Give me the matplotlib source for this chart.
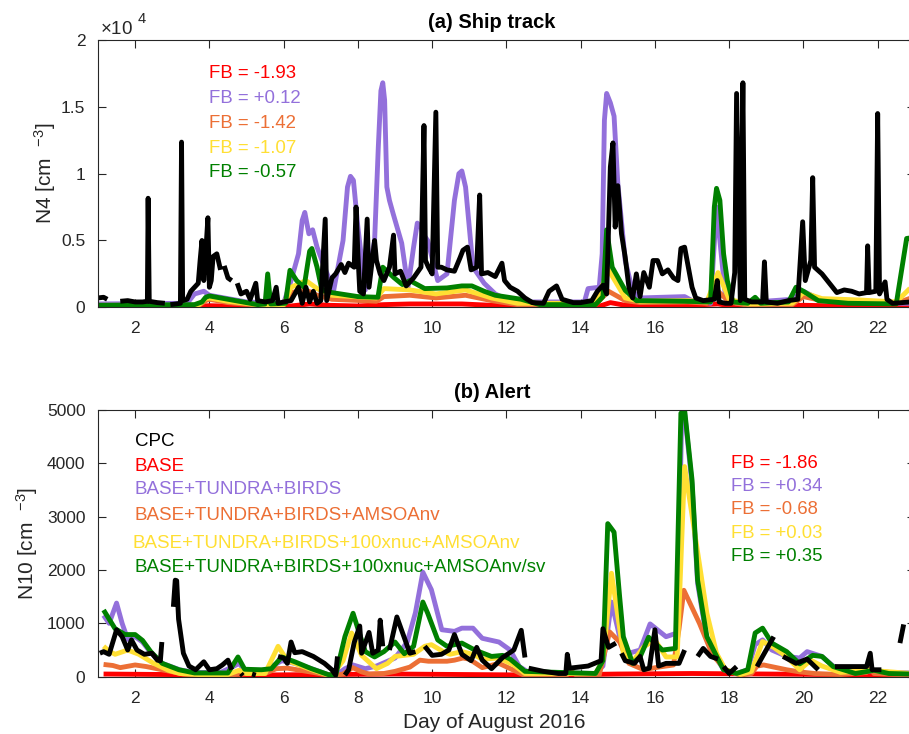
import numpy as np
import matplotlib
matplotlib.use("Agg")
import matplotlib.pyplot as plt
from matplotlib.ticker import FuncFormatter

plt.rcParams['font.family'] = ['Liberation Sans', 'DejaVu Sans']
plt.rcParams['mathtext.fontset'] = 'custom'
plt.rcParams['mathtext.rm'] = 'Liberation Sans'
plt.rcParams['mathtext.it'] = 'Liberation Sans'

# ---- (a) Ship track, N4 [cm-3]; (day, value) pairs ----
ship_red = [(1.0, 50), (3.5, 50), (4.0, 120), (5.0, 60), (6.2, 100), (6.7, 250), (7.2, 150),
            (8.0, 100), (8.7, 200), (9.4, 250), (10.8, 250), (11.6, 150), (12.5, 60), (14.5, 80),
            (14.8, 350), (15.2, 150), (16.5, 100), (17.7, 250), (18.2, 50), (20.0, 150),
            (21.0, 100), (22.5, 60), (22.9, 200)]
ship_purple = [(1.0, 250), (3.4, 300), (3.6, 1000), (3.85, 1200), (4.0, 900), (5.0, 400), (6.0, 300),
               (6.2, 2000), (6.4, 4000), (6.5, 6500), (6.57, 7100), (6.68, 5500), (6.78, 5800),
               (6.9, 4500), (7.1, 3000), (7.35, 1300), (7.6, 5000), (7.72, 9000), (7.8, 9800),
               (7.88, 9500), (8.0, 6000), (8.2, 1300), (8.45, 5000), (8.55, 12000), (8.62, 16200),
               (8.67, 16800), (8.72, 15500), (8.78, 9000), (8.85, 8000), (8.95, 7000), (9.18, 4800),
               (9.35, 1500), (9.5, 4500), (9.6, 6300), (9.7, 6000), (9.75, 5500), (9.88, 5000),
               (10.15, 2000), (10.4, 2500), (10.6, 8000), (10.72, 10000), (10.8, 10200),
               (10.9, 9000), (11.1, 3000), (11.4, 1800), (11.7, 1000), (12.0, 600), (12.6, 400),
               (14.1, 400), (14.2, 1400), (14.5, 1500), (14.58, 4000), (14.64, 14000), (14.7, 16000),
               (14.8, 15300), (14.9, 14300), (15.0, 9300), (15.2, 3500), (15.4, 1200), (15.6, 700),
               (16.8, 800), (17.0, 500), (17.5, 300), (17.66, 7500), (17.9, 800), (18.2, 300),
               (19.7, 600), (20.0, 1200), (20.5, 500), (22.5, 300), (22.9, 300)]
ship_orange = [(1.0, 100), (3.7, 100), (3.9, 500), (4.0, 600), (4.5, 350), (5.3, 150), (6.0, 150),
               (6.2, 1100), (6.6, 1300), (6.9, 900), (7.3, 600), (8.5, 450), (8.7, 800), (9.4, 900),
               (10.1, 700), (10.9, 900), (11.6, 500), (12.3, 200), (14.4, 200), (14.75, 1200),
               (15.2, 500), (15.6, 350), (16.9, 400), (17.4, 300), (17.7, 1200), (18.0, 400),
               (18.5, 150), (19.7, 200), (20.0, 800), (20.5, 500), (21.5, 450), (22.5, 300),
               (22.9, 700)]
ship_yellow = [(1.0, 150), (3.7, 150), (3.9, 650), (4.0, 700), (4.5, 450), (5.3, 200), (6.0, 200),
               (6.2, 1500), (6.6, 2000), (6.9, 1400), (7.3, 900), (8.5, 700), (8.7, 1400), (9.4, 1300),
               (10.1, 1000), (10.9, 1300), (11.6, 700), (12.3, 300), (14.4, 300), (14.75, 2800),
               (15.2, 700), (15.6, 450), (16.9, 500), (17.4, 400), (17.7, 2600), (18.0, 600),
               (18.5, 250), (19.7, 300), (20.0, 1100), (20.5, 650), (21.5, 550), (22.5, 400),
               (22.9, 1500)]
ship_green = [(1.0, 150), (3.6, 200), (3.8, 400), (3.9, 750), (4.0, 850), (4.7, 500), (5.3, 200),
              (5.5, 250), (5.57, 2500), (5.65, 250), (6.05, 300), (6.17, 2770), (6.35, 2000),
              (6.55, 1500), (6.7, 4200), (6.76, 4400), (6.9, 3000), (7.03, 1300), (7.3, 1100),
              (8.0, 800), (8.54, 750), (8.67, 3000), (8.98, 2200), (9.2, 1700), (9.4, 2000),
              (9.8, 1400), (10.4, 1450), (10.8, 1600), (11.07, 1600), (11.4, 1200), (11.7, 900),
              (12.4, 600), (12.9, 200), (14.4, 200), (14.6, 800), (14.7, 5800), (14.85, 3000),
              (15.2, 1270), (15.5, 500), (16.8, 450), (17.5, 400), (17.6, 7500), (17.66, 8900),
              (17.75, 8000), (17.85, 4000), (17.95, 2000), (18.1, 400), (18.5, 300), (18.7, 750),
              (18.85, 300), (19.6, 400), (19.8, 1500), (20.0, 1200), (20.4, 500), (21.2, 300),
              (22.5, 250), (22.78, 5150), (22.9, 5200)]
nan = np.nan
ship_cpc = [(1.0, 700), (1.15, 750), (1.25, 600), (1.3, nan), (1.6, 450), (1.8, 500), (2.0, 400),
            (2.2, 400), (2.33, 450), (2.35, 8160), (2.38, 450), (2.6, 350), (2.8, 300), (2.9, nan),
            (2.95, 200), (3.1, 250), (3.22, 300), (3.25, 12360), (3.28, 500), (3.4, 600), (3.5, 1200),
            (3.6, 1500), (3.7, 1800), (3.75, 3500), (3.8, 5000), (3.85, 2000), (3.9, 4000),
            (3.96, 6700), (4.0, 1500), (4.05, 2000), (4.1, 3800), (4.2, 4000), (4.3, 2800),
            (4.35, nan), (4.4, 3100), (4.5, 2200), (4.6, 2000), (4.65, nan), (4.75, 1800), (4.85, 1000),
            (5.0, 1200), (5.1, 600), (5.25, 1800), (5.3, 500), (5.5, 400), (5.7, 500), (5.8, 1500),
            (5.85, 300), (6.0, 400), (6.2, 500), (6.4, 1500), (6.5, 300), (6.6, 1500), (6.7, 400),
            (6.8, 1200), (6.9, 300), (7.0, 500), (7.12, 6600), (7.16, 500), (7.3, 2200), (7.4, 2500),
            (7.55, 3200), (7.65, 2600), (7.75, 3300), (7.9, 3000), (7.95, 7500), (8.0, 4000),
            (8.05, 1200), (8.15, 1000), (8.25, 6600), (8.3, 1500), (8.45, 5000), (8.5, 3500),
            (8.6, 2500), (8.7, 2000), (8.85, 3000), (8.96, 5400), (9.0, 2500), (9.15, 2700),
            (9.3, 1600), (9.5, 2200), (9.7, 3000), (9.78, 13600), (9.82, 3500), (9.9, 3000),
            (10.0, 2500), (10.1, 14600), (10.15, 3000), (10.25, 3000), (10.4, 2800), (10.6, 2700),
            (10.75, 3700), (10.83, 4270), (10.95, 4500), (11.05, 2800), (11.2, 3000), (11.28, 8400),
            (11.33, 2500), (11.5, 2600), (11.7, 2300), (11.88, 3300), (11.95, 2000), (12.1, 1500),
            (12.3, 1200), (12.5, 700), (12.7, 350), (13.0, 300), (13.15, 1200), (13.35, 1600),
            (13.5, 600), (13.8, 350), (14.0, 350), (14.3, 500), (14.45, 1200), (14.6, 1650),
            (14.7, 1000), (14.8, 10500), (14.87, 12300), (14.93, 6000), (15.0, 9100), (15.1, 5500),
            (15.2, 3750), (15.3, 1500), (15.4, 700), (15.5, 2500), (15.6, 800), (15.7, 2600),
            (15.85, 1500), (15.95, 3500), (16.07, 3500), (16.2, 2500), (16.35, 2800), (16.5, 2200),
            (16.62, 2000), (16.7, 4400), (16.8, 4500), (16.9, 3000), (17.0, 1500), (17.1, 700),
            (17.3, 500), (17.6, 600), (17.68, 2000), (17.73, 400), (17.9, 300), (18.05, 300),
            (18.15, 2600), (18.2, 16000), (18.3, 500), (18.37, 16800), (18.42, 600), (18.6, 400),
            (18.9, 400), (18.95, 3400), (19.0, 400), (19.3, 300), (19.6, 500), (19.85, 600),
            (19.98, 6400), (20.05, 2000), (20.2, 3500), (20.25, 9700), (20.3, 3000), (20.5, 2500),
            (20.7, 1800), (20.9, 1100), (21.1, 1300), (21.3, 1200), (21.5, 1000), (21.7, 1100),
            (21.73, 4600), (21.77, 1100), (21.95, 1200), (22.0, 14500), (22.05, 1000), (22.2, 1900),
            (22.25, 600), (22.4, 300), (22.9, 400)]

# ---- (b) Alert, N10 [cm-3] ----
alert_red = [(1.15, 50), (3.0, 40), (5.0, 30), (7.0, 40), (9.0, 50), (11.0, 40), (13.0, 30),
             (15.0, 50), (17.0, 60), (19.0, 50), (21.0, 40), (22.9, 40)]
alert_purple = [(1.15, 1150), (1.3, 1000), (1.5, 1380), (1.65, 1000), (1.8, 700), (2.0, 750),
                (2.2, 650), (2.42, 450), (2.73, 250), (3.2, 130), (3.6, 80), (4.3, 80), (4.64, 190),
                (4.8, 250), (4.95, 120), (5.5, 120), (5.95, 300), (6.3, 250), (6.75, 150), (7.2, 40),
                (7.4, 20), (7.65, 150), (7.87, 220), (8.2, 150), (8.5, 200), (9.0, 350), (9.33, 650),
                (9.55, 1200), (9.75, 1960), (9.98, 1630), (10.26, 880), (10.6, 850), (10.8, 910),
                (11.1, 910), (11.35, 720), (11.8, 650), (12.1, 500), (12.35, 190), (12.6, 80),
                (14.4, 60), (14.6, 200), (14.83, 1400), (15.05, 750), (15.3, 440), (15.6, 500),
                (15.87, 990), (16.3, 750), (16.6, 820), (16.72, 4800), (16.8, 4950), (17.0, 3600),
                (17.15, 1750), (17.4, 700), (17.7, 300), (17.85, 130), (18.2, 60), (18.5, 130),
                (18.7, 600), (18.9, 690), (19.15, 500), (19.55, 380), (19.9, 350), (20.1, 470),
                (20.5, 380), (20.8, 200), (21.4, 80), (21.9, 110), (22.3, 80), (22.9, 70)]
alert_orange = [(1.15, 230), (1.4, 210), (1.6, 170), (2.0, 220), (2.3, 190), (2.8, 120), (3.3, 50),
                (3.7, 30), (4.5, 30), (5.0, 60), (5.5, 60), (5.8, 150), (6.1, 160), (6.8, 80),
                (7.3, 10), (7.6, 50), (7.86, 170), (8.1, 90), (8.3, 50), (8.7, 60), (9.0, 100),
                (9.4, 180), (9.67, 310), (9.9, 290), (10.4, 290), (10.6, 310), (10.83, 350),
                (11.0, 330), (11.35, 170), (11.8, 250), (12.2, 120), (12.5, 20), (13.6, 20),
                (13.75, 100), (13.9, 20), (14.5, 30), (14.78, 840), (15.05, 650), (15.3, 250),
                (15.7, 130), (16.1, 180), (16.5, 220), (16.65, 900), (16.78, 1620), (17.2, 1000),
                (17.55, 410), (17.9, 130), (18.3, 30), (18.6, 60), (18.75, 200), (18.93, 220),
                (19.55, 130), (19.9, 90), (20.3, 60), (21.0, 40), (21.7, 80), (21.8, 150), (21.9, 60),
                (22.9, 30)]
alert_yellow = [(1.15, 570), (1.3, 480), (1.46, 420), (1.8, 500), (2.1, 420), (2.5, 250), (2.9, 120),
                (3.2, 60), (3.7, 40), (4.5, 40), (4.8, 120), (5.0, 60), (5.5, 60), (5.85, 570),
                (6.1, 300), (6.8, 120), (7.3, 10), (7.6, 300), (7.83, 820), (8.1, 400), (8.5, 150),
                (8.8, 250), (9.0, 380), (9.5, 420), (9.8, 570), (9.98, 600), (10.3, 470), (10.48, 420),
                (10.8, 470), (11.1, 420), (11.35, 330), (11.8, 350), (12.2, 220), (12.5, 60),
                (14.4, 60), (14.6, 300), (14.83, 1940), (15.15, 440), (15.4, 280), (15.7, 560),
                (16.0, 690), (16.3, 370), (16.6, 370), (16.8, 3940), (17.13, 2430), (17.4, 1190),
                (17.66, 440), (17.9, 130), (18.3, 40), (18.6, 100), (18.9, 660), (19.2, 550),
                (19.5, 400), (19.9, 130), (20.2, 310), (20.5, 200), (21.0, 80), (21.8, 120), (22.9, 60)]
alert_green = [(1.15, 1250), (1.46, 900), (1.73, 790), (2.0, 790), (2.2, 680), (2.42, 470),
               (2.73, 250), (3.18, 130), (3.6, 70), (4.5, 70), (4.77, 370), (4.95, 140), (5.4, 130),
               (5.67, 150), (5.95, 370), (6.3, 280), (6.75, 150), (7.2, 40), (7.4, 20), (7.65, 750),
               (7.87, 1190), (8.0, 900), (8.2, 470), (8.45, 370), (8.7, 470), (9.0, 650), (9.25, 430),
               (9.5, 570), (9.75, 1400), (9.88, 1190), (10.15, 690), (10.4, 570), (10.8, 630),
               (11.15, 500), (11.6, 380), (11.9, 400), (12.1, 330), (12.5, 100), (14.4, 60),
               (14.6, 300), (14.73, 2870), (14.9, 2710), (15.05, 1500), (15.15, 750), (15.4, 250),
               (15.6, 370), (15.83, 740), (16.2, 500), (16.55, 530), (16.7, 4940), (16.8, 5000),
               (17.0, 3690), (17.15, 1810), (17.4, 750), (17.7, 330), (17.85, 130), (18.2, 60),
               (18.5, 130), (18.7, 820), (18.9, 910), (19.15, 630), (19.55, 470), (19.9, 240),
               (20.25, 400), (20.5, 380), (20.8, 190), (21.4, 60), (21.9, 120), (22.3, 60), (22.9, 50)]
alert_cpc = [(1.05, 440), (1.15, 470), (1.3, 420), (1.5, 880), (1.65, 750), (1.8, 500), (1.9, 690),
             (2.05, 500), (2.25, 420), (2.45, 440), (2.6, 310), (2.68, 300), (2.72, 650), (2.8, nan),
             (3.03, 1310), (3.08, 1810), (3.12, 1800), (3.17, 1080), (3.3, 440), (3.45, 200),
             (3.63, 130), (3.85, 280), (4.0, 130), (4.2, 150), (4.35, 220), (4.5, 310), (4.6, 130),
             (4.65, nan), (4.85, 60), (4.9, 20), (4.95, nan), (5.15, 50), (5.25, 30), (5.3, nan),
             (5.85, 380), (6.0, 350), (6.1, 250), (6.2, 650), (6.3, 450), (6.5, 470), (6.8, 380),
             (7.1, 250), (7.3, 130), (7.4, 30), (7.45, 380), (7.5, nan), (7.65, 30), (7.75, 130),
             (7.9, 640), (8.05, 950), (8.1, 440), (8.3, 830), (8.4, 440), (8.55, 500), (8.6, 1060),
             (8.67, 570), (8.75, nan), (8.85, 500), (9.05, 1120), (9.2, 830), (9.4, 440), (9.55, 470),
             (9.65, nan), (9.8, 570), (10.0, 400), (10.25, 420), (10.45, 500), (10.6, 790),
             (10.8, 420), (11.05, 300), (11.2, 550), (11.35, 310), (11.6, 150), (11.9, 360),
             (12.2, 500), (12.4, 870), (12.5, 360), (12.55, nan), (12.6, 160), (13.0, 100),
             (13.4, 60), (13.6, 60), (13.64, 420), (13.7, 160), (14.2, 200), (14.55, 300),
             (14.6, 900), (14.75, 550), (14.95, 630), (15.0, nan), (15.1, 440), (15.2, 300),
             (15.45, 250), (15.6, 380), (15.7, 130), (15.85, 160), (16.0, 880), (16.1, 200),
             (16.3, 250), (16.65, 250), (16.8, 500), (16.9, nan), (17.15, 380), (17.3, 530),
             (17.5, 380), (17.7, 330), (17.75, nan), (17.85, 190), (18.0, 60), (18.2, 190),
             (18.3, nan), (18.75, 190), (18.9, 380), (19.2, 750), (19.3, nan), (19.45, 380),
             (19.8, 250), (20.1, 330), (20.4, 130), (20.5, nan), (20.85, 190), (21.3, 190),
             (21.7, 190), (21.8, 440), (21.85, 130), (22.1, 130), (22.2, nan), (22.6, 630),
             (22.7, 980)]

ship_fb = ['FB = -1.93', 'FB = +0.12', 'FB = -1.42', 'FB = -1.07', 'FB = -0.57']
alert_fb = ['FB = -1.86', 'FB = +0.34', 'FB = -0.68', 'FB = +0.03', 'FB = +0.35']
run_names = ['CPC', 'BASE', 'BASE+TUNDRA+BIRDS', 'BASE+TUNDRA+BIRDS+AMSOAnv',
             'BASE+TUNDRA+BIRDS+100xnuc+AMSOAnv', 'BASE+TUNDRA+BIRDS+100xnuc+AMSOAnv/sv']

c_red = '#ff0000'
c_purple = '#9370db'
c_orange = '#ec6f35'
c_yellow = '#ffdf33'
c_green = '#008000'
c_axis = '#262626'

W, H = 909, 734
fig = plt.figure(figsize=(W / 100, H / 100), dpi=100)

def px_box(left, top, right, bottom):
    return [left / W, 1 - bottom / H, (right - left) / W, (bottom - top) / H]

def draw(ax, series, color, lw=3.5):
    arr = np.array(series, dtype=float)
    ax.plot(arr[:, 0], arr[:, 1], color=color, lw=lw, solid_joinstyle='round',
            solid_capstyle='butt')

def style(ax, ymax, ystep):
    ax.set_xlim(1, 23)
    ax.set_ylim(0, ymax)
    ax.set_xticks(np.arange(2, 23, 2))
    ax.set_yticks(np.arange(0, ymax + 1, ystep))
    ax.tick_params(direction='in', top=True, right=True, length=6, width=0.8,
                   labelsize=12.5, colors=c_axis)
    ax.tick_params(axis='x', pad=10)
    ax.tick_params(axis='y', pad=9)
    for s in ax.spines.values():
        s.set_color(c_axis)
        s.set_linewidth(0.8)

# panel (a)
ax1 = fig.add_axes(px_box(98, 40, 914.8, 307.3))
for ser, col in [(ship_red, c_red), (ship_purple, c_purple), (ship_orange, c_orange),
                 (ship_yellow, c_yellow), (ship_green, c_green), (ship_cpc, 'black')]:
    draw(ax1, ser, col)
style(ax1, 20000, 5000)
ax1.yaxis.set_major_formatter(FuncFormatter(lambda v, p: '%g' % (v / 1e4)))
ax1.set_ylabel('N4 [cm  $^{-3}$]', fontsize=15, color=c_axis)
ax1.yaxis.set_label_coords(-0.049, 0.5)
ax1.text(0.482, 1.065, '(a) Ship track', transform=ax1.transAxes, ha='center', va='center',
         fontsize=14.5, fontweight='bold', color='black')
fig.text(100 / W, 1 - 30 / H, r'$\times$10', fontsize=13.5, color=c_axis, va='center')
fig.text(138 / W, 1 - 19 / H, '4', fontsize=10.5, color=c_axis, va='center')

ship_cols = [c_red, c_purple, c_orange, c_yellow, c_green]
for i, (txt, col) in enumerate(zip(ship_fb, ship_cols)):
    fig.text(209 / W, 1 - (74 + i * 24.7) / H, txt, color=col, fontsize=13.4, va='center')

# panel (b)
ax2 = fig.add_axes(px_box(98, 410, 914.8, 676.7))
for ser, col in [(alert_red, c_red), (alert_purple, c_purple), (alert_orange, c_orange),
                 (alert_yellow, c_yellow), (alert_green, c_green), (alert_cpc, 'black')]:
    draw(ax2, ser, col)
style(ax2, 5000, 1000)
ax2.set_ylabel('N10 [cm  $^{-3}$]', fontsize=15, color=c_axis)
ax2.yaxis.set_label_coords(-0.071, 0.5)
ax2.set_xlabel('Day of August 2016', fontsize=15, color=c_axis)
ax2.xaxis.set_label_coords(0.485, -0.136)
ax2.text(0.482, 1.064, '(b) Alert', transform=ax2.transAxes, ha='center', va='center',
         fontsize=14.5, fontweight='bold', color='black')

name_cols = ['black', c_red, c_purple, c_orange, c_yellow, c_green]
name_y = [442, 466, 489, 515, 543, 567]
name_x = [135, 135, 135, 135, 133, 135]
for txt, col, x, y in zip(run_names, name_cols, name_x, name_y):
    fig.text(x / W, 1 - y / H, txt, color=col, fontsize=13.5, va='center')

for i, (txt, col) in enumerate(zip(alert_fb, ship_cols)):
    fig.text(731 / W, 1 - (463 + i * 23.4) / H, txt, color=col, fontsize=13.3, va='center')

fig.savefig('out.png', dpi=100)
